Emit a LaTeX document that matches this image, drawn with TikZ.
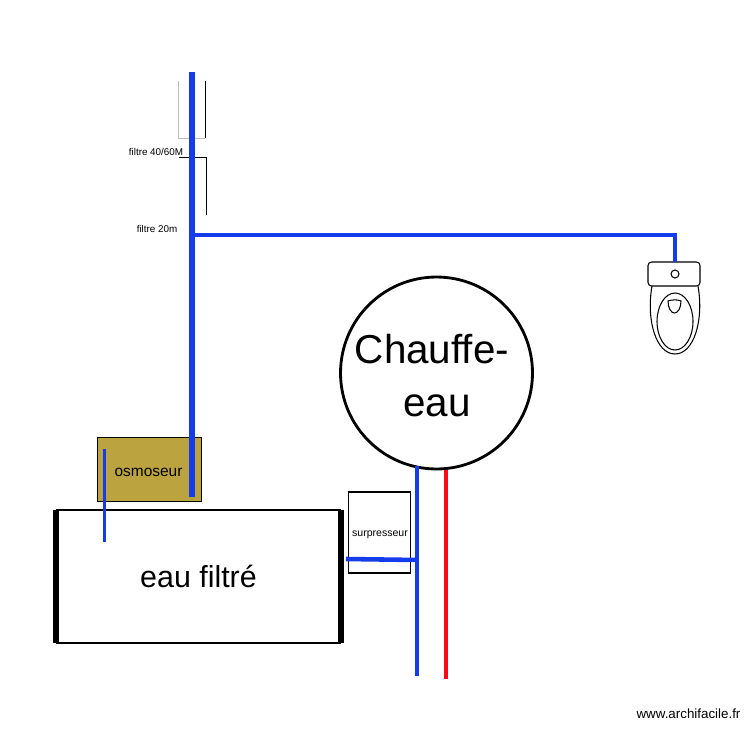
\documentclass[tikz,border=0pt]{standalone}
\usepackage{fontspec}
\setmainfont{Liberation Sans}
\definecolor{pipeblue}{RGB}{20,60,235}
\definecolor{pipered}{RGB}{250,10,20}
\definecolor{osmogold}{RGB}{187,163,63}
\tikzset{
  label/.style={inner sep=0pt, text=black},
  bowl/.style={line width=0.6pt, black},
}
\begin{document}
\begin{tikzpicture}[x=0.02cm, y=-0.02cm]
\useasboundingbox (0,0) rectangle (750,750);

% filtres
\draw [gray!50, line width=0.4pt] (178,81) -- (178,138) -- (205,138);
\draw [line width=0.4pt] (205,81) -- (205,138);
\draw [line width=0.4pt] (179,157) -- (206,157) -- (206,215);

\node [label, font=\fontsize{5.6}{6}\selectfont] (filtreA) at (156,152) {filtre 40/60M};
\node [label, font=\fontsize{5.6}{6}\selectfont] (filtreB) at (157,229) {filtre 20m};

% osmoseur
\node [draw, fill=osmogold, line width=0.4pt, minimum width=2.08cm, minimum height=1.28cm,
  inner sep=0pt] (osmoseur) at (149,469) {};
\node [label, font=\fontsize{8.8}{10}\selectfont] (osmotexte) at (148.5,472) {osmoseur};

% eau filtree
\node [minimum width=5.69cm, minimum height=2.66cm, inner sep=0pt] (cuve) at (198.75,576.5) {};
\draw [line width=1pt] (cuve.north west) -- (cuve.north east);
\draw [line width=1pt] (cuve.south west) -- (cuve.south east);
\draw [line width=3.4pt] (cuve.north west) -- (cuve.south west);
\draw [line width=3.4pt] (cuve.north east) -- (cuve.south east);
\node [label, font=\fontsize{17.3}{19}\selectfont] (eau) at (198.5,576) {eau filtré};

% chauffe-eau
\node [draw, circle, line width=1.6pt, minimum size=3.84cm, inner sep=0pt] (chauffe) at (436.5,373) {};
\node [label, font=\fontsize{23}{30}\selectfont] (chauffeA) at (432,349) {Chauffe-};
\node [label, font=\fontsize{23}{30}\selectfont] (chauffeB) at (437,406) {eau};

% surpresseur
\node [draw, line width=0.6pt, minimum width=1.25cm, minimum height=1.62cm, inner sep=0pt] (surpresseur) at (379.5,532.5) {};
\node [label, font=\fontsize{6}{7}\selectfont] (surtexte) at (380,535) {surpresseur};

% wc
\draw [bowl] (652,286) .. controls (646,320) and (656,354) .. (675,354)
  .. controls (694,354) and (704,320) .. (698,286);
\draw [bowl] (675,321.5) ellipse [x radius=18, y radius=28.5];
\draw [bowl] (668,301) .. controls (671,299.5) and (679,299.5) .. (681,301)
  .. controls (681,308) and (678,313) .. (674.5,313)
  .. controls (671,313) and (668,308) .. (668,301) -- cycle;
\node [draw, bowl, fill=white, rounded corners=2pt, minimum width=1.04cm, minimum height=0.48cm, inner sep=0pt] (reservoir) at (674,274) {};
\node [draw, bowl, circle, minimum size=0.16cm, inner sep=0pt] (robinet) at (675,274) {};

% tuyaux
\coordinate (arrivee) at (192,72);
\coordinate (sortie) at (192,497);
\coordinate (te) at (192,235);
\coordinate (coude) at (675,235);
\coordinate (wc) at (675,262);
\coordinate (osmoA) at (104.5,449);
\coordinate (osmoB) at (104.5,542);
\coordinate (froidA) at (417,466);
\coordinate (froidB) at (417,676);
\coordinate (chaudA) at (446,470);
\coordinate (chaudB) at (446,679);
\coordinate (surA) at (346,559);
\coordinate (surB) at (418,560);

\draw [pipeblue, line width=3.1pt] (arrivee) -- (sortie);
\draw [pipeblue, line width=2.4pt] (te) -- (coude) -- (wc);
\draw [pipeblue, line width=1.6pt] (osmoA) -- (osmoB);
\draw [pipeblue, line width=2.8pt] (froidA) -- (froidB);
\draw [pipered, line width=2.2pt] (chaudA) -- (chaudB);
\draw [pipeblue, line width=2.6pt] (surA) -- (surB);

\node [label, font=\fontsize{7.6}{9}\selectfont] (marque) at (688.5,714) {www.archifacile.fr};

\end{tikzpicture}
\end{document}
